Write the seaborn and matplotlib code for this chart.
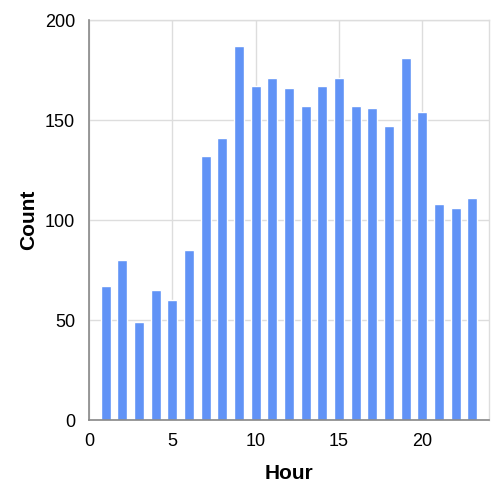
import pandas as pd
import seaborn as sns
import matplotlib.pyplot as plt

sns.set_style("white")
plt.rcParams["font.family"] = ["Liberation Sans", "DejaVu Sans"]

hours = list(range(1, 24))
counts = [67, 80, 49, 65, 60, 85, 132, 141, 187, 167, 171, 166,
          157, 167, 171, 157, 156, 147, 181, 154, 108, 106, 111]
x_ticks = [0, 5, 10, 15, 20]
y_ticks = [0, 50, 100, 150, 200]

df = pd.DataFrame({"Hour": hours, "Count": counts})

BAR = "#6193f6"
GRID = "#dddddd"
AXIS = "#888888"

fig = plt.figure(figsize=(4.98, 4.94), dpi=100)
ax = fig.add_axes([89 / 498, (494 - 420.3) / 494, 400 / 498, 400 / 494])

ax.bar(df["Hour"], df["Count"], width=0.6, color=BAR, zorder=3)
sns.despine(ax=ax, top=False, right=False)

ax.set_xlim(0, 24)
ax.set_ylim(0, 200)
ax.set_xticks(x_ticks)
ax.set_yticks(y_ticks)
ax.grid(True, color=GRID, linewidth=1, zorder=0)
ax.set_axisbelow(True)

for s in ["top", "right"]:
    ax.spines[s].set_color(GRID)
    ax.spines[s].set_linewidth(1)
for s in ["left", "bottom"]:
    ax.spines[s].set_color(AXIS)
    ax.spines[s].set_linewidth(1.2)
    ax.spines[s].set_zorder(4)

ax.tick_params(axis="both", direction="out", length=6.5, width=1.2, color=AXIS,
               labelsize=13, labelcolor="black", pad=3.5)
ax.tick_params(axis="x", pad=3)

ax.set_xlabel("Hour", fontsize=15, fontweight="bold", color="black", labelpad=9.5)
ax.set_ylabel("Count", fontsize=15, fontweight="bold", color="black", labelpad=5)

plt.savefig("out.png", dpi=100)
plt.close()
